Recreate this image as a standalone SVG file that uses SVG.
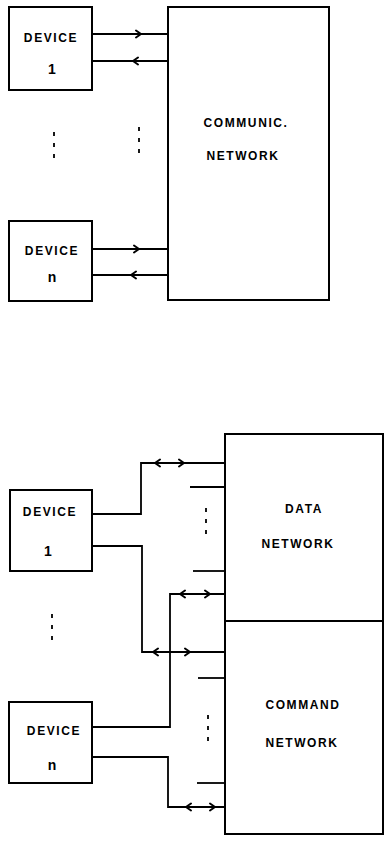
<svg xmlns="http://www.w3.org/2000/svg" width="385" height="842" viewBox="0 0 385 842">
<style>
.box{fill:#fff;stroke:#000;stroke-width:2}
.ln{fill:none;stroke:#000;stroke-width:1.8;stroke-linejoin:miter}
.hd{fill:none;stroke:#000;stroke-width:2;stroke-linecap:round;stroke-linejoin:round}
.dt{stroke:#000;stroke-width:1.8;stroke-dasharray:4 7}
text{font-family:"Liberation Sans",Arial,sans-serif;font-weight:bold;fill:#000;text-anchor:middle}
.t{font-size:12px;letter-spacing:1.6px}
.n{font-size:14px}
</style>
<rect width="385" height="842" fill="#fff"/>
<defs>
<path id="ar" class="hd" d="M-5,-3.5 L0,0 L-5,3.5"/>
<path id="al" class="hd" d="M5,-3.5 L0,0 L5,3.5"/>
</defs>

<!-- top section -->
<g id="dev1a"><rect class="box" x="9" y="7" width="83" height="83"/><text class="t" x="51" y="42">DEVICE</text><text class="n" x="52" y="74">1</text></g>
<g id="devna"><rect class="box" x="9" y="221" width="83" height="80"/><text class="t" x="52" y="255">DEVICE</text><text class="n" x="52" y="282">n</text></g>
<g id="comm"><rect class="box" x="168" y="7" width="161" height="293"/><text class="t" x="246" y="127">COMMUNIC.</text><text class="t" x="243" y="160">NETWORK</text></g>

<g id="conn-top">
<line class="ln" x1="92" y1="34" x2="168" y2="34"/><use href="#ar" x="141" y="34"/>
<line class="ln" x1="92" y1="61" x2="168" y2="61"/><use href="#al" x="133" y="61"/>
<line class="ln" x1="92" y1="249" x2="168" y2="249"/><use href="#ar" x="139" y="249"/>
<line class="ln" x1="92" y1="275" x2="168" y2="275"/><use href="#al" x="131" y="275"/>
<line class="dt" x1="54" y1="132" x2="54" y2="164"/>
<line class="dt" x1="139" y1="127" x2="139" y2="158"/>
</g>

<!-- bottom section -->
<g id="dev1b"><rect class="box" x="10" y="490" width="82" height="81"/><text class="t" x="50" y="516">DEVICE</text><text class="n" x="48" y="556">1</text></g>
<g id="devnb"><rect class="box" x="9" y="702" width="83" height="81"/><text class="t" x="54" y="735">DEVICE</text><text class="n" x="52" y="770">n</text></g>
<g id="data"><rect class="box" x="225" y="434" width="158" height="187"/><text class="t" x="304" y="513">DATA</text><text class="t" x="298" y="548">NETWORK</text></g>
<g id="cmd"><rect class="box" x="225" y="621" width="158" height="213"/><text class="t" x="303" y="709">COMMAND</text><text class="t" x="302" y="747">NETWORK</text></g>

<g id="conn-bottom">
<polyline class="ln" points="92,514 141,514 141,463 225,463"/><use href="#al" x="155" y="463"/><use href="#ar" x="184" y="463"/>
<polyline class="ln" points="92,546 142,546 142,652 225,652"/><use href="#al" x="153" y="652"/><use href="#ar" x="190" y="652"/>
<polyline class="ln" points="92,727 170,727 170,594 225,594"/><use href="#al" x="180" y="594"/><use href="#ar" x="210" y="594"/>
<polyline class="ln" points="92,757 168,757 168,807 225,807"/><use href="#al" x="186" y="807"/><use href="#ar" x="215" y="807"/>
<line class="ln" x1="190" y1="487" x2="225" y2="487"/>
<line class="ln" x1="193" y1="571" x2="225" y2="571"/>
<line class="ln" x1="198" y1="678" x2="225" y2="678"/>
<line class="ln" x1="197" y1="783" x2="225" y2="783"/>
<line class="dt" x1="206" y1="508" x2="206" y2="540"/>
<line class="dt" x1="208" y1="715" x2="208" y2="747"/>
<line class="dt" x1="52" y1="614" x2="52" y2="646"/>
</g>
</svg>
